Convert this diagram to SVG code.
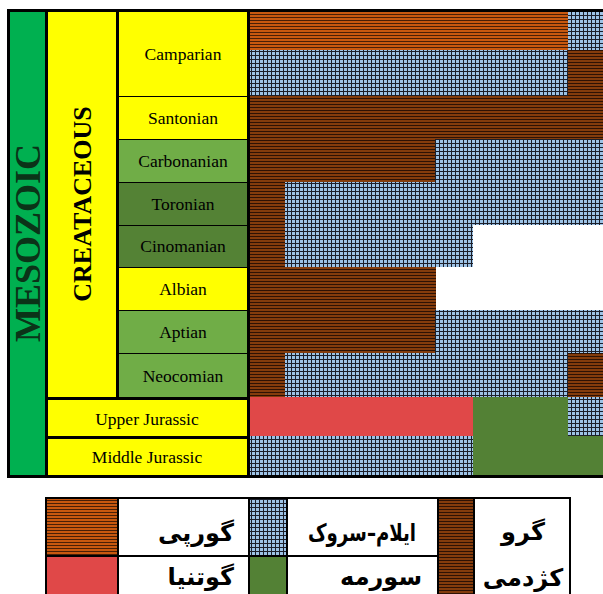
<svg xmlns="http://www.w3.org/2000/svg" width="603" height="594" viewBox="0 0 603 594">
<defs>
<pattern id="pOr" width="4" height="3" patternUnits="userSpaceOnUse"><rect width="4" height="3" fill="#C8580F"/><rect y="2" width="4" height="1" fill="#4a1f06"/></pattern>
<pattern id="pBr" width="4" height="3" patternUnits="userSpaceOnUse"><rect width="4" height="3" fill="#843C0C"/><rect y="2" width="4" height="1" fill="#2e1204"/></pattern>
<pattern id="pBl" width="4" height="4" patternUnits="userSpaceOnUse"><rect width="4" height="4" fill="#9DC3E6"/><rect x="3" width="1" height="4" fill="#1c1f2a"/><rect y="3" width="4" height="1" fill="#1c1f2a"/></pattern>
<style>
.st{font-family:"Liberation Serif","Times New Roman",serif;font-size:17.5px;fill:#000;text-anchor:middle}
.big{font-family:"Liberation Serif","Times New Roman",serif;font-weight:bold;text-anchor:middle}
.fa{font-family:"DejaVu Sans","Noto Sans",sans-serif;font-weight:bold;font-size:24px;fill:#000}
.y{fill:#FFFF00}.lg{fill:#70AD47}.dg{fill:#548235}
.or{fill:url(#pOr)}.br{fill:url(#pBr)}.bl{fill:url(#pBl)}.rd{fill:#E04848}.gr{fill:#538135}.wh{fill:#fff}
.cell{stroke:#000;stroke-width:2;fill:none}
</style>
</defs>
<rect x="0" y="0" width="603" height="594" fill="#fff"/>
<rect x="7" y="9" width="600" height="469" fill="#000"/>
<g id="era"><rect x="10" y="12" width="35" height="463" fill="#00B050"/>
<text class="big" font-size="36" fill="#0b3318" transform="translate(40,243) rotate(-90)">MESOZOIC</text></g>
<g id="period"><rect class="y" x="48" y="12" width="68" height="385"/>
<text class="big" font-size="26" fill="#000" transform="translate(91,204) rotate(-90)">CREATACEOUS</text></g>
<g id="stages">
<g id="camparian"><rect class="y" x="119" y="12" width="128" height="84"/><text class="st" x="183" y="60">Camparian</text></g>
<g id="santonian"><rect class="y" x="119" y="97" width="128" height="42"/><text class="st" x="183" y="124">Santonian</text></g>
<g id="carbonanian"><rect class="lg" x="119" y="140" width="128" height="42"/><text class="st" x="183" y="167">Carbonanian</text></g>
<g id="toronian"><rect class="dg" x="119" y="183" width="128" height="42"/><text class="st" x="183" y="210">Toronian</text></g>
<g id="cinomanian"><rect class="dg" x="119" y="226" width="128" height="41"/><text class="st" x="183" y="252">Cinomanian</text></g>
<g id="albian"><rect class="y" x="119" y="268" width="128" height="42"/><text class="st" x="183" y="295">Albian</text></g>
<g id="aptian"><rect class="lg" x="119" y="311" width="128" height="42"/><text class="st" x="183" y="338">Aptian</text></g>
<g id="neocomian"><rect class="lg" x="119" y="354" width="128" height="43"/><text class="st" x="183" y="382">Neocomian</text></g>
</g>
<g id="upper-jurassic"><rect class="y" x="48" y="400" width="199" height="36"/><text class="st" x="147" y="425">Upper Jurassic</text></g>
<g id="middle-jurassic"><rect class="y" x="48" y="439" width="199" height="36"/><text class="st" x="147" y="463">Middle Jurassic</text></g>
<g id="chart">
<rect class="or" x="250" y="12" width="318" height="38"/><rect class="bl" x="568" y="12" width="35" height="38"/>
<rect class="bl" x="250" y="50" width="318" height="46"/><rect class="br" x="568" y="50" width="35" height="46"/>
<rect class="br" x="250" y="96" width="353" height="43"/>
<rect class="br" x="250" y="139" width="185" height="43"/><rect class="bl" x="435" y="139" width="168" height="43"/>
<rect class="br" x="250" y="182" width="35" height="43"/><rect class="bl" x="285" y="182" width="318" height="43"/>
<rect class="br" x="250" y="225" width="35" height="42"/><rect class="bl" x="285" y="225" width="188" height="42"/><rect class="wh" x="473" y="225" width="130" height="42"/>
<rect class="br" x="250" y="267" width="186" height="43"/><rect class="wh" x="436" y="267" width="167" height="43"/>
<rect class="br" x="250" y="310" width="185" height="43"/><rect class="bl" x="435" y="310" width="168" height="43"/>
<rect class="br" x="250" y="353" width="35" height="44"/><rect class="bl" x="285" y="353" width="283" height="44"/><rect class="br" x="568" y="353" width="35" height="44"/>
<rect class="rd" x="250" y="397" width="223" height="39"/><rect class="gr" x="473" y="397" width="95" height="39"/><rect class="bl" x="568" y="397" width="35" height="39"/>
<rect class="bl" x="250" y="436" width="223" height="39"/><rect class="gr" x="473" y="436" width="130" height="39"/>
</g>
<g id="legend">
<rect class="or" x="46" y="498" width="72" height="58"/>
<rect class="rd" x="46" y="556" width="72" height="40"/>
<rect class="bl" x="249" y="498" width="38" height="58"/>
<rect class="gr" x="249" y="556" width="38" height="40"/>
<rect class="br" x="438" y="498" width="36" height="98"/>
<rect class="cell" x="46" y="498" width="524" height="100"/>
<path d="M118 498V598M249 498V598M287 498V598M438 498V598M474 498V598M46 556H438" stroke="#000" stroke-width="2" fill="none"/>
<text class="fa" x="234" y="541" text-anchor="end">گورپی</text>
<text class="fa" x="308" y="541" textLength="108" lengthAdjust="spacingAndGlyphs">ایلام–سروک</text>
<text class="fa" x="234" y="585" text-anchor="end">گوتنیا</text>
<text class="fa" x="422" y="585" text-anchor="end">سورمه</text>
<text class="fa" x="523" y="540" text-anchor="middle">گرو</text>
<text class="fa" x="523" y="586" text-anchor="middle">کژدمی</text>
</g>
</svg>
